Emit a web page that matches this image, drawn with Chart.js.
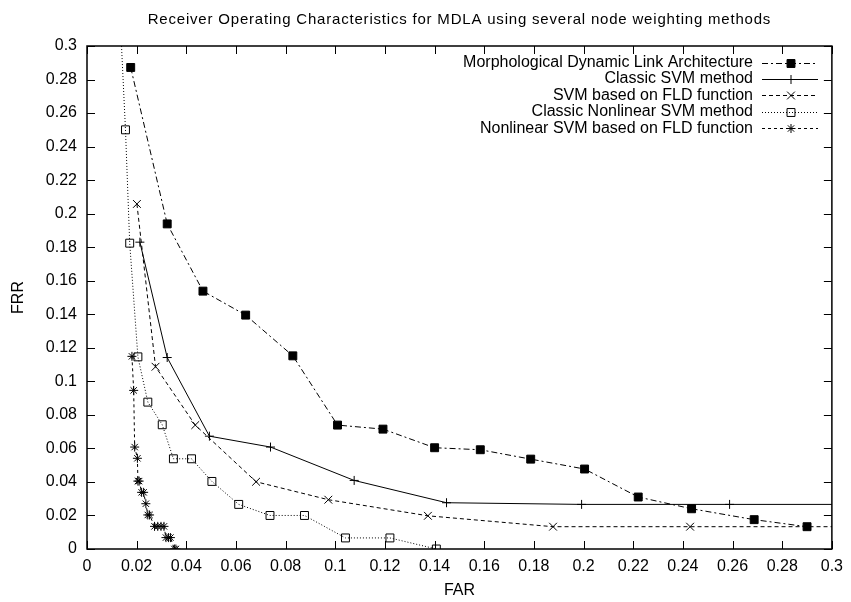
<!DOCTYPE html>
<html>
<head>
<meta charset="utf-8">
<title>ROC MDLA</title>
<script src="https://cdn.jsdelivr.net/npm/chart.js@4.4.1/dist/chart.umd.min.js"></script>
<style>
  html, body { margin: 0; padding: 0; background: #fff; }
</style>
</head>
<body>
<canvas id="grafico" width="851" height="602"></canvas>
<script>
// Datos (FAR en x, FRR en y)
const titulo = "Receiver Operating Characteristics for MDLA using several node weighting methods"
const nombres = [
    "Morphological Dynamic Link Architecture",
    "Classic SVM method",
    "SVM based on FLD function",
    "Classic Nonlinear SVM method",
    "Nonlinear SVM based on FLD function"
]

const mdlaFar = [0.0176, 0.0323, 0.0467, 0.0639, 0.0829, 0.1009, 0.1192, 0.1400, 0.1584, 0.1787, 0.2004, 0.2220, 0.2435, 0.2687, 0.2900]
const mdlaFrr = [0.2872, 0.1939, 0.1538, 0.1395, 0.1152, 0.0739, 0.0715, 0.0604, 0.0592, 0.0536, 0.0477, 0.0310, 0.0240, 0.0175, 0.0133]

const svmFar = [0.0213, 0.0323, 0.0493, 0.0739, 0.1076, 0.1448, 0.1992, 0.2588, 0.3100]
const svmFrr = [0.1830, 0.1142, 0.0673, 0.0608, 0.0409, 0.0276, 0.0266, 0.0266, 0.0266]

const fldFar = [0.0201, 0.0276, 0.0436, 0.0681, 0.0972, 0.1373, 0.1877, 0.2429, 0.3100]
const fldFrr = [0.2058, 0.1087, 0.0739, 0.0401, 0.0294, 0.0198, 0.0133, 0.0133, 0.0133]

const nlFar = [0.0123, 0.0155, 0.0172, 0.0205, 0.0245, 0.0303, 0.0348, 0.0421, 0.0503, 0.0611, 0.0737, 0.0876, 0.1041, 0.1220, 0.1407]
const nlFrr = [0.3500, 0.2500, 0.1824, 0.1146, 0.0876, 0.0741, 0.0538, 0.0538, 0.0403, 0.0266, 0.0200, 0.0200, 0.0066, 0.0066, 0.0000]

const nlFldFar = [0.0181, 0.0188, 0.0192, 0.0203, 0.0205, 0.0210, 0.0220, 0.0228, 0.0237, 0.0245, 0.0252, 0.0272, 0.0285, 0.0298, 0.0310, 0.0318, 0.0328, 0.0336, 0.0352, 0.0358]
const nlFldFrr = [0.1149, 0.0946, 0.0608, 0.0541, 0.0405, 0.0405, 0.0338, 0.0338, 0.0270, 0.0203, 0.0203, 0.0135, 0.0135, 0.0135, 0.0135, 0.0068, 0.0068, 0.0068, 0.0000, 0.0000]

// Ticks de los ejes
const xTicks = [0, 0.02, 0.04, 0.06, 0.08, 0.1, 0.12, 0.14, 0.16, 0.18, 0.2, 0.22, 0.24, 0.26, 0.28, 0.3]
const yTicks = [0, 0.02, 0.04, 0.06, 0.08, 0.1, 0.12, 0.14, 0.16, 0.18, 0.2, 0.22, 0.24, 0.26, 0.28, 0.3]

const fuente = "'Liberation Sans', Arial, Helvetica, sans-serif"
Chart.defaults.font.family = fuente
Chart.defaults.color = "#000"

const zip = (xs, ys) => xs.map((x, i) => ({ x: x, y: ys[i] }))

// estilos tipo gnuplot
const estilos = [
    { dash: [6, 3, 2, 3], punto: "rect", radio: 5.6, relleno: "#000" },
    { dash: [], punto: "cross", radio: 4.5, relleno: "#000" },
    { dash: [4, 3], punto: "crossRot", radio: 5.5, relleno: "#000" },
    { dash: [1, 2], punto: "rect", radio: 5.6, relleno: "rgba(0,0,0,0)" },
    { dash: [3, 3], punto: "star", radio: 4.5, relleno: "#000" }
]

const series = [
    zip(mdlaFar, mdlaFrr),
    zip(svmFar, svmFrr),
    zip(fldFar, fldFrr),
    zip(nlFar, nlFrr),
    zip(nlFldFar, nlFldFrr)
]

const datasets = series.map((datos, i) => ({
    label: nombres[i],
    data: datos,
    showLine: true,
    borderColor: "#000",
    borderWidth: 1,
    borderDash: estilos[i].dash,
    pointStyle: estilos[i].punto,
    pointRadius: estilos[i].radio,
    pointBorderWidth: 1,
    pointBorderColor: "#000",
    pointBackgroundColor: estilos[i].relleno,
    tension: 0
}))

// dibujar marcador para la leyenda
const dibujarMarcador = (ctx, estilo, x, y) => {
    const r = estilo.radio
    ctx.save()
    ctx.setLineDash([])
    ctx.lineWidth = 1
    ctx.strokeStyle = "#000"
    ctx.fillStyle = estilo.relleno
    ctx.beginPath()
    if (estilo.punto === "rect") {
        const s = r * Math.SQRT1_2
        ctx.rect(x - s, y - s, 2 * s, 2 * s)
        ctx.fill()
        ctx.stroke()
    } else {
        const d = r * Math.SQRT1_2
        if (estilo.punto === "cross" || estilo.punto === "star") {
            ctx.moveTo(x - r, y); ctx.lineTo(x + r, y)
            ctx.moveTo(x, y - r); ctx.lineTo(x, y + r)
        }
        if (estilo.punto === "crossRot" || estilo.punto === "star") {
            ctx.moveTo(x - d, y - d); ctx.lineTo(x + d, y + d)
            ctx.moveTo(x - d, y + d); ctx.lineTo(x + d, y - d)
        }
        ctx.stroke()
    }
    ctx.restore()
}

// Marco, ticks hacia adentro, titulo y leyenda estilo gnuplot
const marcoPlugin = {
    id: "marco",
    afterDatasetsDraw(chart) {
        const ctx = chart.ctx
        const { left, right, top, bottom } = chart.chartArea
        const sx = chart.scales.x
        const sy = chart.scales.y
        ctx.save()
        ctx.strokeStyle = "#000"
        ctx.lineWidth = 1
        ctx.beginPath()
        sx.ticks.forEach(t => {
            const px = Math.round(sx.getPixelForValue(t.value)) + 0.5
            ctx.moveTo(px, bottom); ctx.lineTo(px, bottom - 8)
            ctx.moveTo(px, top); ctx.lineTo(px, top + 8)
        })
        sy.ticks.forEach(t => {
            const py = Math.round(sy.getPixelForValue(t.value)) + 0.5
            ctx.moveTo(left, py); ctx.lineTo(left + 8, py)
            ctx.moveTo(right, py); ctx.lineTo(right - 8, py)
        })
        ctx.stroke()
        ctx.lineWidth = 1.5
        ctx.strokeRect(left, top, right - left, bottom - top)

        // titulo
        ctx.fillStyle = "#000"
        ctx.textBaseline = "middle"
        ctx.textAlign = "center"
        ctx.font = "15px " + fuente
        ctx.letterSpacing = "0.8px"
        ctx.fillText(titulo, (left + right) / 2, 20)

        // leyenda
        ctx.letterSpacing = "0px"
        ctx.font = "16px " + fuente
        ctx.textAlign = "right"
        nombres.forEach((nombre, i) => {
            const y = 62.5 + i * 16.4
            ctx.fillText(nombre, 753, y)
            ctx.beginPath()
            ctx.lineWidth = 1
            ctx.setLineDash(estilos[i].dash)
            ctx.moveTo(762, Math.round(y) + 0.5)
            ctx.lineTo(818, Math.round(y) + 0.5)
            ctx.stroke()
            ctx.setLineDash([])
            dibujarMarcador(ctx, estilos[i], 791, Math.round(y) + 0.5)
        })
        ctx.restore()
    }
}

const formato = v => String(Math.round(v * 100) / 100)

const ctx = document.querySelector("#grafico").getContext("2d")
const grafico = new Chart(ctx, {
    type: "scatter",
    data: { datasets: datasets },
    options: {
        responsive: false,
        animation: false,
        devicePixelRatio: 1,
        layout: { padding: { left: 0, right: 14, top: 46, bottom: 0 } },
        plugins: {
            legend: { display: false },
            tooltip: { enabled: false },
            title: { display: false }
        },
        scales: {
            x: {
                type: "linear",
                min: 0,
                max: 0.3,
                grid: { display: false, drawTicks: false },
                border: { display: false },
                afterBuildTicks: scale => { scale.ticks = xTicks.map(v => ({ value: v })) },
                afterFit: scale => { scale.height = 53 },
                ticks: { font: { size: 16 }, color: "#000", padding: 8, maxRotation: 0, autoSkip: false, callback: formato },
                title: { display: true, text: "FAR", font: { size: 16 }, color: "#000", padding: { top: 0, bottom: 2 } }
            },
            y: {
                type: "linear",
                min: 0,
                max: 0.3,
                grid: { display: false, drawTicks: false },
                border: { display: false },
                afterBuildTicks: scale => { scale.ticks = yTicks.map(v => ({ value: v })) },
                afterFit: scale => { scale.width = 87 },
                ticks: { font: { size: 16 }, color: "#000", padding: 10, autoSkip: false, callback: formato },
                title: { display: true, text: "FRR", font: { size: 16 }, color: "#000", padding: { top: 9, bottom: 0 } }
            }
        }
    },
    plugins: [marcoPlugin]
})
</script>
</body>
</html>
